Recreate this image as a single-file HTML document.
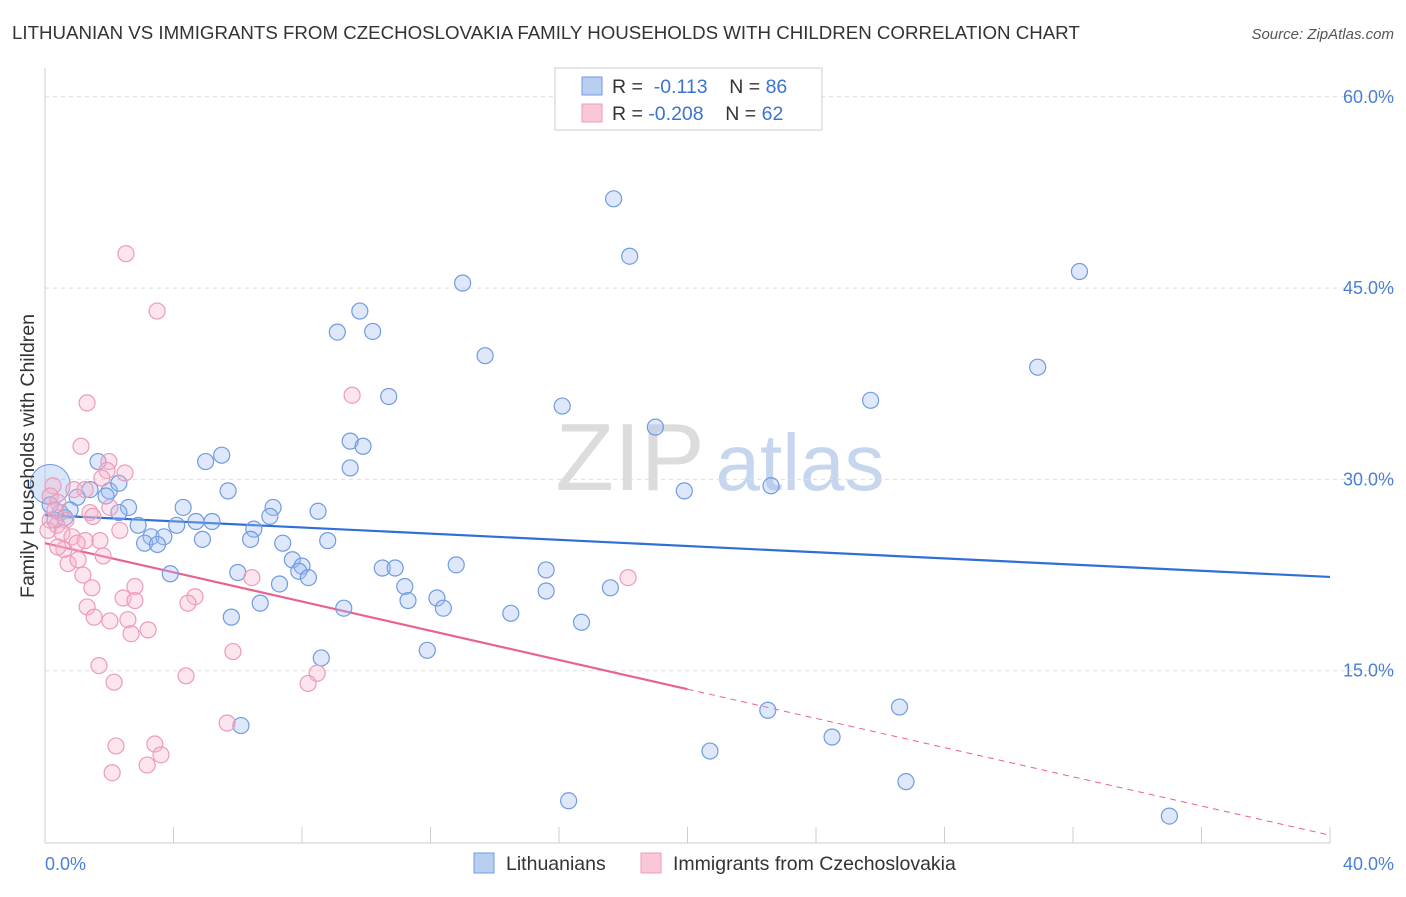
<!DOCTYPE html>
<html><head><meta charset="utf-8"><style>
body{margin:0;background:#fff;font-family:"Liberation Sans",sans-serif}
svg text{font-family:"Liberation Sans",sans-serif}
</style></head><body>
<svg id="chart" width="1406" height="892" xmlns="http://www.w3.org/2000/svg">
<text x="12" y="39" font-size="18.7" fill="#333">LITHUANIAN VS IMMIGRANTS FROM CZECHOSLOVAKIA FAMILY HOUSEHOLDS WITH CHILDREN CORRELATION CHART</text>
<text x="1394" y="39" font-size="15" fill="#555" font-style="italic" text-anchor="end">Source: ZipAtlas.com</text>
<g><text x="630" y="490" font-size="96" fill="#dcdcdc" font-family="Liberation Serif" text-anchor="middle">ZIP</text><text x="800" y="490" font-size="80" fill="#c5d6ee" text-anchor="middle">atlas</text></g>
<g id="grid"></g><g id="axes"></g><g id="regs"></g><g id="pts"></g>
<text transform="translate(34,456) rotate(-90)" font-size="19.5" fill="#333" text-anchor="middle">Family Households with Children</text>
<text x="45" y="870" font-size="18" fill="#4a7fd6">0.0%</text>
<text x="1394" y="870" font-size="18" fill="#4a7fd6" text-anchor="end">40.0%</text>
<g>
<rect x="555" y="68" width="267" height="62" fill="#fff" stroke="#ccc"/>
<rect x="582" y="77" width="20" height="18" fill="#b8cff2" stroke="#6f9be0"/>
<rect x="582" y="104" width="20" height="18" fill="#f9c7d7" stroke="#ec9bb8"/>
<text x="612" y="93" font-size="19.5" fill="#333">R = <tspan fill="#3a74d0">&#160;-0.113</tspan>&#160;&#160;&#160;&#160;N = <tspan fill="#3a74d0">86</tspan></text>
<text x="612" y="120" font-size="19.5" fill="#333">R = <tspan fill="#3a74d0">-0.208</tspan>&#160;&#160;&#160;&#160;N = <tspan fill="#3a74d0">62</tspan></text>
</g>
<g>
<rect x="474" y="853" width="20" height="20" fill="#b8cff2" stroke="#6f9be0"/>
<text x="506" y="870" font-size="19.5" fill="#333">Lithuanians</text>
<rect x="641" y="853" width="20" height="20" fill="#f9c7d7" stroke="#ec9bb8"/>
<text x="673" y="870" font-size="19.5" fill="#333">Immigrants from Czechoslovakia</text>
</g>
</svg>
<script>
const yTicks=[15,30,45,60];
const yTickLabels=["15.0%","30.0%","45.0%","60.0%"];
const xTicks=[0,4,8,12,16,20,24,28,32,36,40];
const blueX=[17.7,18.2,32.2,13.0,9.8,9.1,10.2,13.7,30.9,10.7,16.1,25.7,19.0,9.5,9.9,1.65,5.5,5.0,9.5,19.9,22.6,5.7,2.0,1.9,2.3,1.4,1.0,2.6,2.3,4.3,7.1,8.5,7.0,2.9,4.1,4.7,5.2,6.5,3.3,3.7,3.1,3.5,4.9,6.4,7.4,8.8,7.7,6.0,3.9,10.5,10.9,8.0,7.9,8.2,7.3,11.2,12.8,15.6,15.6,12.2,11.3,12.4,6.7,9.3,14.5,17.6,16.7,5.8,11.9,8.6,6.1,22.5,26.6,24.5,20.7,26.8,16.3,35.0,0.47,0.31,0.62,0.78,0.16];
const blueY=[52.0,47.5,46.3,45.4,43.2,41.55,41.6,39.7,38.8,36.5,35.75,36.2,34.1,33.0,32.6,31.4,31.9,31.4,30.9,29.1,29.5,29.1,29.1,28.7,29.7,29.2,28.6,27.8,27.4,27.8,27.8,27.5,27.1,26.4,26.4,26.7,26.7,26.1,25.5,25.5,25.0,24.9,25.3,25.3,25.0,25.2,23.7,22.7,22.6,23.05,23.05,23.2,22.8,22.3,21.8,21.6,23.3,22.9,21.25,20.7,20.5,19.9,20.3,19.9,19.5,21.5,18.8,19.2,16.6,16.0,10.7,11.9,12.15,9.8,8.7,6.3,4.8,3.6,27.4,26.8,27.0,27.6,28.0];
const pinkX=[2.52,3.49,1.31,1.12,9.56,1.99,2.49,1.93,1.77,0.9,1.25,0.25,0.16,0.4,1.4,1.49,0.65,0.37,0.53,2.02,2.33,0.84,1.25,1.71,0.59,1.0,0.4,1.81,0.72,1.03,1.18,2.8,6.44,18.15,1.46,2.43,2.8,4.67,4.45,1.31,1.53,2.02,2.58,3.21,2.68,5.85,1.68,4.39,8.47,8.19,2.15,5.67,2.21,3.42,3.61,3.18,2.09,0.16,0.09,0.31];
const pinkY=[47.7,43.2,36.0,32.6,36.6,31.4,30.5,30.7,30.1,29.2,29.2,29.5,28.7,28.2,27.4,27.1,26.8,26.4,25.8,27.8,26.0,25.5,25.2,25.2,24.5,25.0,24.7,24.0,23.4,23.7,22.5,21.6,22.3,22.3,21.5,20.7,20.5,20.8,20.3,20.0,19.2,18.9,19.0,18.2,17.9,16.5,15.4,14.6,14.8,14.0,14.1,10.9,9.1,9.25,8.4,7.6,7.0,26.8,26.0,27.6];
const bigBlue=[0.16,29.6];
const blueReg=[27.2,22.35];
const pinkReg=[25.0,2.1];
const pinkSolidEnd=20;
const NS="http://www.w3.org/2000/svg";
const X=v=>45+v/40*1285, Y=v=>862-v/15*191.3;
function mk(t,a,p){const e=document.createElementNS(NS,t);for(const k in a)e.setAttribute(k,a[k]);document.getElementById(p).appendChild(e);return e;}
yTicks.forEach((t,i)=>{
 const l=mk('line',{x1:45,x2:1394,y1:Y(t),y2:Y(t),stroke:'#ddd','stroke-dasharray':'4,4'},'grid');
 
 
 const tx=mk('text',{x:1394,y:Y(t)+6,'font-size':18,fill:'#4a7fd6','text-anchor':'end'},'grid');tx.textContent=yTickLabels[i];
 
 
});
const ax=mk('line',{x1:45,x2:45,y1:68,y2:843,stroke:'#ccc'},'axes');


const bx=mk('line',{x1:45,x2:1330,y1:843,y2:843,stroke:'#ccc'},'axes');


xTicks.forEach(t=>{const l=mk('line',{x1:X(t),x2:X(t),y1:827,y2:843,stroke:'#ccc'},'axes');
 
 });
function pt(x,y,r,c,f,n){const e=mk('circle',{cx:X(x),cy:Y(y),r:r,fill:f,stroke:c,'stroke-width':1.2},'pts');
 
 }
const bb=mk('circle',{cx:X(bigBlue[0]),cy:Y(bigBlue[1]),r:20,fill:'rgba(160,190,240,0.4)',stroke:'#6f9be0'},'pts');


blueX.forEach((x,i)=>pt(x,blueY[i],8,'#6f9be0','rgba(160,190,240,0.35)','lithuanian-point'));
pinkX.forEach((x,i)=>pt(x,pinkY[i],8,'#ec9bb8','rgba(245,180,205,0.35)','czech-point'));
const br=mk('line',{x1:X(0),y1:Y(blueReg[0]),x2:X(40),y2:Y(blueReg[1]),stroke:'#2f6fd6','stroke-width':2.2},'regs');


const pm=pinkReg[0]+(pinkReg[1]-pinkReg[0])*pinkSolidEnd/40;
const pr=mk('line',{x1:X(0),y1:Y(pinkReg[0]),x2:X(pinkSolidEnd),y2:Y(pm),stroke:'#e8638f','stroke-width':2.2},'regs');


const pd=mk('line',{x1:X(pinkSolidEnd),y1:Y(pm),x2:X(40),y2:Y(pinkReg[1]),stroke:'#e8638f','stroke-width':1,'stroke-dasharray':'6,5'},'regs');


</script>
</body></html>
